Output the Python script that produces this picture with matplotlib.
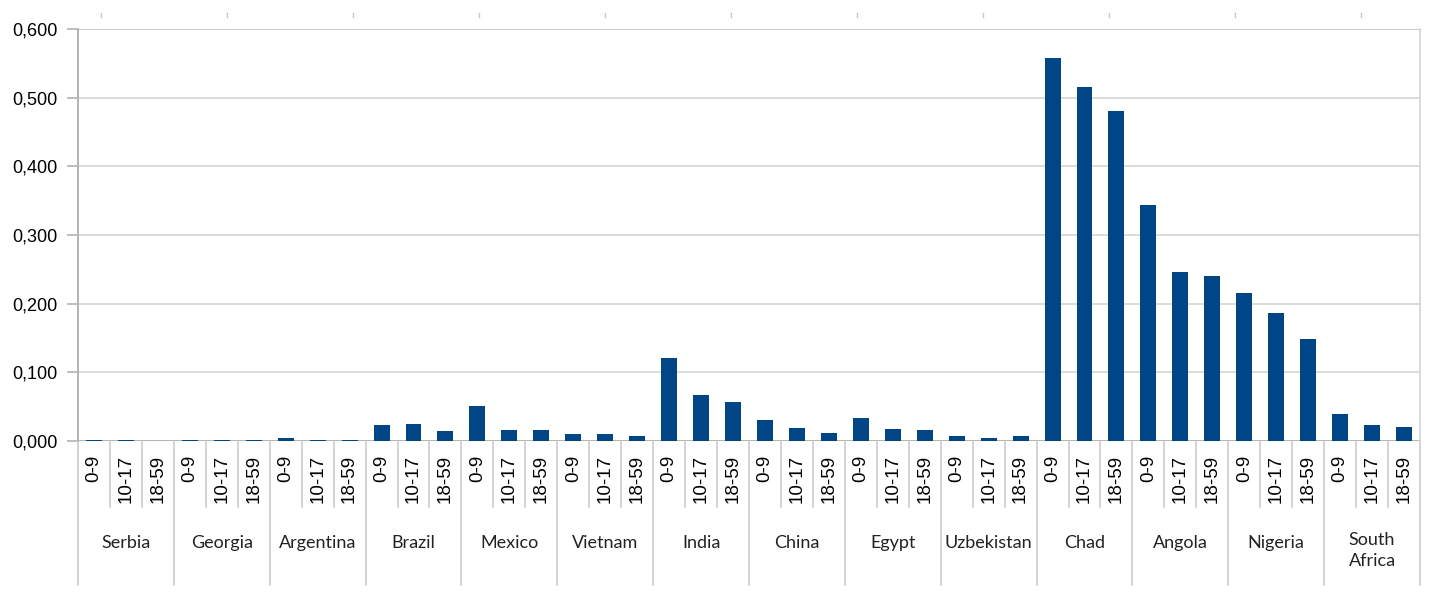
import matplotlib
matplotlib.use('Agg')
import matplotlib.pyplot as plt
from matplotlib.ticker import FuncFormatter, MultipleLocator
from matplotlib.lines import Line2D

countries = ['Serbia', 'Georgia', 'Argentina', 'Brazil', 'Mexico', 'Vietnam', 'India',
             'China', 'Egypt', 'Uzbekistan', 'Chad', 'Angola', 'Nigeria', 'South\nAfrica']
ages = ['0-9', '10-17', '18-59']

# values per country, in order of ages
v_0_9   = [0.001, 0.002, 0.005, 0.023, 0.051, 0.010, 0.121, 0.031, 0.034, 0.007, 0.558, 0.343, 0.215, 0.039]
v_10_17 = [0.001, 0.002, 0.001, 0.025, 0.016, 0.010, 0.067, 0.019, 0.018, 0.005, 0.515, 0.246, 0.186, 0.024]
v_18_59 = [0.0005, 0.001, 0.001, 0.0145, 0.016, 0.007, 0.057, 0.012, 0.016, 0.007, 0.480, 0.240, 0.148, 0.021]

values = []
labels = []
for i in range(len(countries)):
    values += [v_0_9[i], v_10_17[i], v_18_59[i]]
    labels += ages
x = list(range(len(values)))

bar_col = '#004586'
grid_col = '#d4d4d4'
axis_col = '#b3b3b3'

fig = plt.figure(figsize=(14.33, 6.01), dpi=100)
ax = fig.add_axes([78/1433, 160/601, 1342/1433, 412/601])

ax.bar(x, values, width=0.5, color=bar_col, zorder=3)
ax.set_xlim(-0.5, len(values) - 0.5)
ax.set_ylim(0, 0.6)

ax.yaxis.set_major_locator(MultipleLocator(0.1))
ax.yaxis.set_major_formatter(FuncFormatter(lambda v, p: f'{v:.3f}'.replace('.', ',')))
ax.tick_params(axis='y', direction='out', length=8, color=axis_col, width=1.2,
               labelsize=13, pad=7, labelfontfamily='Liberation Sans')
ax.set_xticks([])
ax.grid(axis='y', color=grid_col, linewidth=1.2, zorder=0)
for s in ['top', 'bottom']:
    ax.spines[s].set_visible(False)
ax.spines['left'].set_color(axis_col)
ax.spines['left'].set_linewidth(1.4)
ax.spines['right'].set_color(grid_col)
ax.spines['right'].set_linewidth(1.2)
ax.axhline(0.6, color=axis_col, linewidth=1.4, zorder=1)
ax.axhline(0.0, color=axis_col, linewidth=1.4, zorder=2)

# hierarchical category axis
trans = ax.get_xaxis_transform()
for xi, lab in zip(x, labels):
    ax.text(xi, -0.034, lab, transform=trans, rotation=90, ha='center', va='top',
            fontsize=13.5, family='Liberation Sans')
for k in range(len(values) + 1):
    low = -0.35 if k % 3 == 0 else -0.16
    ax.add_line(Line2D([k - 0.5, k - 0.5], [0, low], transform=trans, color='#c8c8c8',
                       linewidth=1.1, clip_on=False))
for i, c in enumerate(countries):
    yc = -0.265 if '\n' in c else -0.247
    ax.text(3 * i + 1, yc, c, transform=trans, ha='center', va='center',
            fontsize=13, family='Lato', color='#222222', linespacing=1.4)

# faint marks along the top edge
for px in range(101, 1433, 126):
    fig.add_artist(Line2D([px/1433, px/1433], [1 - 13/601, 1 - 17/601], color='#c8c8c8',
                          linewidth=1, transform=fig.transFigure))

fig.savefig('out.png', dpi=100)
